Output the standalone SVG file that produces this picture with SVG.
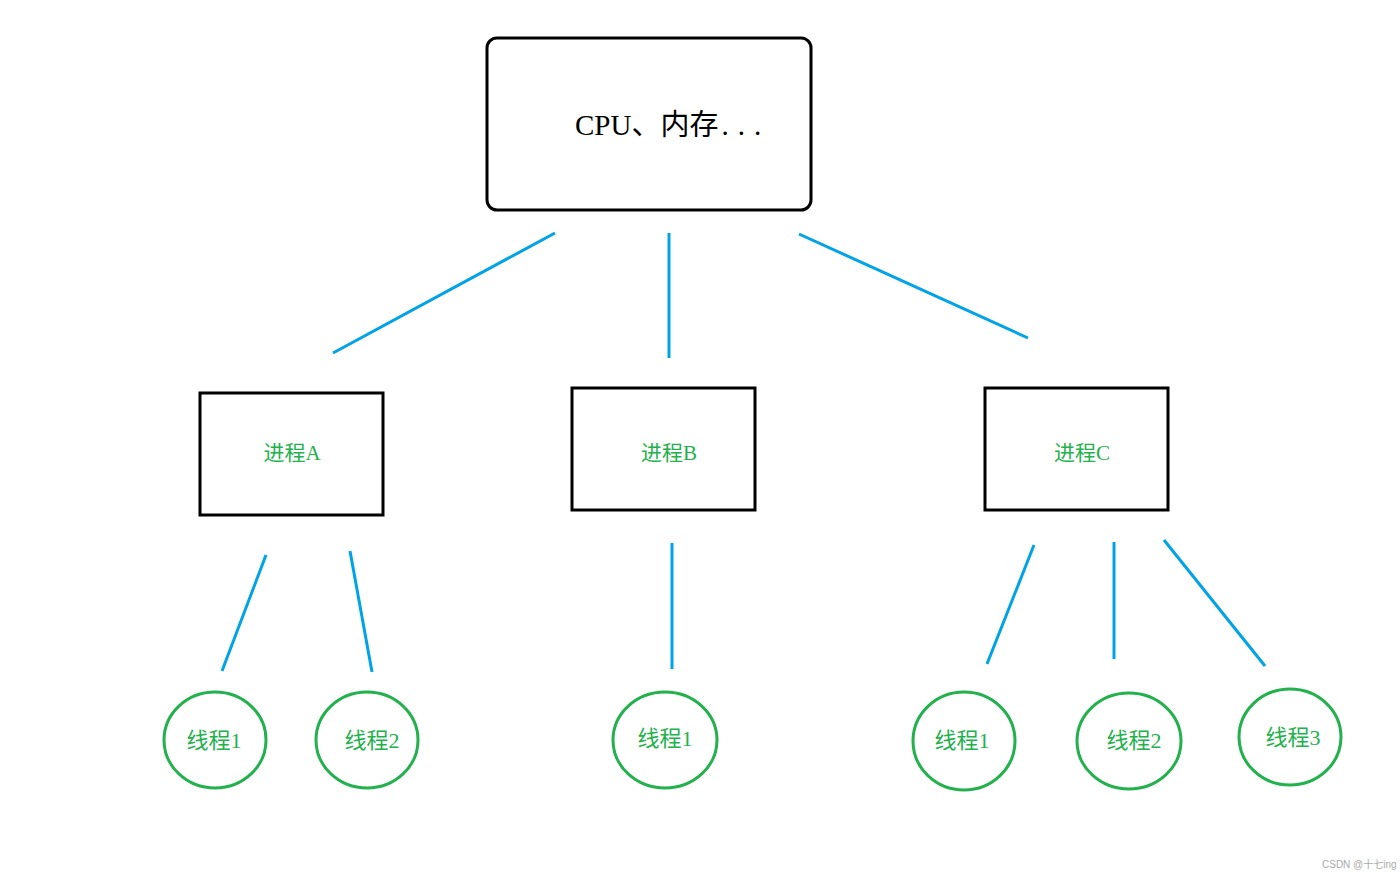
<svg xmlns="http://www.w3.org/2000/svg" width="1400" height="876" viewBox="0 0 1400 876">
<style>
.box{fill:#fff;stroke:#000;stroke-width:3}
.th{fill:#fff;stroke:#22b14c;stroke-width:3}
.conn line{stroke:#00a2e8;stroke-width:3}
.lbl{font-family:"Liberation Serif","Noto Sans CJK SC",serif;fill:#22b14c;text-anchor:middle;dominant-baseline:central}
.p{font-size:21px}
.t{font-size:22px}
.cpu{font-family:"Liberation Serif","Noto Sans CJK SC",serif;font-size:29px;fill:#000}
.wm{font-family:"Liberation Sans","Noto Sans CJK SC",sans-serif;font-size:10px;fill:#aaa}
</style>
<rect width="1400" height="876" fill="#fff"/>
<g id="cpu"><rect class="box" x="487" y="38" width="324" height="172" rx="10"/><text class="cpu" x="575" y="135">CPU、内存<tspan dx="3" letter-spacing="9">...</tspan></text></g>
<g class="conn" id="connectors">
<line x1="555" y1="233" x2="333" y2="353"/>
<line x1="669" y1="233" x2="669" y2="358"/>
<line x1="799" y1="234" x2="1028" y2="338"/>
<line x1="266" y1="555" x2="222" y2="671"/>
<line x1="350" y1="551" x2="372" y2="672"/>
<line x1="672" y1="543" x2="672" y2="669"/>
<line x1="1034" y1="545" x2="987" y2="664"/>
<line x1="1114" y1="542" x2="1114" y2="659"/>
<line x1="1164" y1="540" x2="1265" y2="666"/>
</g>
<g id="procA"><rect class="box" x="200" y="393" width="183" height="122"/><text class="lbl p" x="292" y="453">进程A</text></g>
<g id="procB"><rect class="box" x="572" y="388" width="183" height="122"/><text class="lbl p" x="669" y="453">进程B</text></g>
<g id="procC"><rect class="box" x="985" y="388" width="183" height="122"/><text class="lbl p" x="1082" y="453">进程C</text></g>
<g id="a1"><ellipse class="th" cx="215" cy="740" rx="51" ry="48"/><text class="lbl t" x="214" y="740">线程1</text></g>
<g id="a2"><ellipse class="th" cx="367" cy="740" rx="51" ry="48"/><text class="lbl t" x="372" y="740">线程2</text></g>
<g id="b1"><ellipse class="th" cx="665" cy="740" rx="52" ry="48"/><text class="lbl t" x="665" y="738">线程1</text></g>
<g id="c1"><ellipse class="th" cx="964" cy="741" rx="51" ry="49"/><text class="lbl t" x="962" y="740">线程1</text></g>
<g id="c2"><ellipse class="th" cx="1129" cy="741" rx="52" ry="48"/><text class="lbl t" x="1134" y="740">线程2</text></g>
<g id="c3"><ellipse class="th" cx="1290" cy="737" rx="51" ry="48"/><text class="lbl t" x="1293" y="737">线程3</text></g>
<text class="wm" x="1322" y="868">CSDN @十七ing</text>
</svg>
